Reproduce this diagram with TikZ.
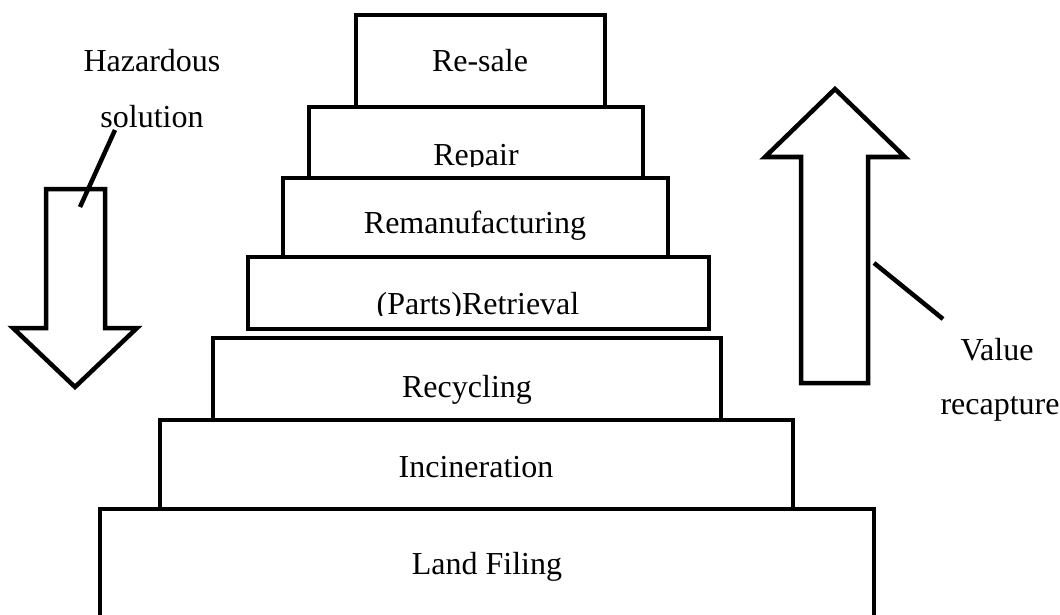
\documentclass[tikz,border=0pt]{standalone}
\usepackage{fontspec}
\setmainfont{Liberation Serif}
\begin{document}
\begin{tikzpicture}[x=1pt,y=-1pt,
  tier/.style={draw=black,line width=4.5pt,fill=white,line join=miter},
  bigarrow/.style={draw=black,line width=4.5pt,fill=white,line join=miter},
  leader/.style={draw=black,line width=4.5pt},
  lbl/.style={anchor=base,inner sep=0pt,font=\fontsize{32}{38}\selectfont}]
\useasboundingbox (0,0) rectangle (1060,615);
\begin{scope}
\clip (0,0) rectangle (1060,615);
% pyramid of recovery options, bottom tier runs off the lower edge
\draw[tier] (100,509) rectangle (874,640);
\draw[tier] (160,420) rectangle (793,509);
\draw[tier] (213,338) rectangle (721,420);
\draw[tier] (248,257) rectangle (709,329);
\draw[tier] (283,178) rectangle (668,257);
\draw[tier] (309,107) rectangle (643,178);
\draw[tier] (356,15) rectangle (605,107);
\end{scope}
% tier labels
\node[lbl] (resale) at (480,72) {Re-sale};
\begin{scope}
\clip (309,107) rectangle (643,166);
\node[lbl] (repair) at (476,165) {Repair};
\end{scope}
\node[lbl] (reman) at (475,233) {Remanufacturing};
\begin{scope}
\clip (248,257) rectangle (709,315);
\node[lbl] (retrieval) at (478,314) {(Parts)Retrieval};
\end{scope}
\node[lbl] (recycling) at (467,397) {Recycling};
\node[lbl] (incin) at (476,477) {Incineration};
\node[lbl] (landfill) at (487,574) {Land Filing};
% downward arrow: hazardous solution
\draw[bigarrow] (46,189) -- (105,189) -- (105,328) -- (137,328) -- (75,387)
  -- (13,328) -- (46,328) -- cycle;
\node[lbl] (haz1) at (152,72) {Hazardous};
\node[lbl] (haz2) at (152,128) {solution};
\coordinate (hazend) at (80,207);
\coordinate (hazstart) at (115,130);
\draw[leader] (hazstart) -- (hazend);
% upward arrow: value recapture
\draw[bigarrow] (801,383) -- (868,383) -- (868,157) -- (905,157) -- (835,89)
  -- (765,157) -- (801,157) -- cycle;
\node[lbl] (val1) at (997,360) {Value};
\node[lbl] (val2) at (1000,414) {recapture};
\coordinate (valstart) at (943,319);
\coordinate (valend) at (874,263);
\draw[leader] (valstart) -- (valend);
\end{tikzpicture}
\end{document}
